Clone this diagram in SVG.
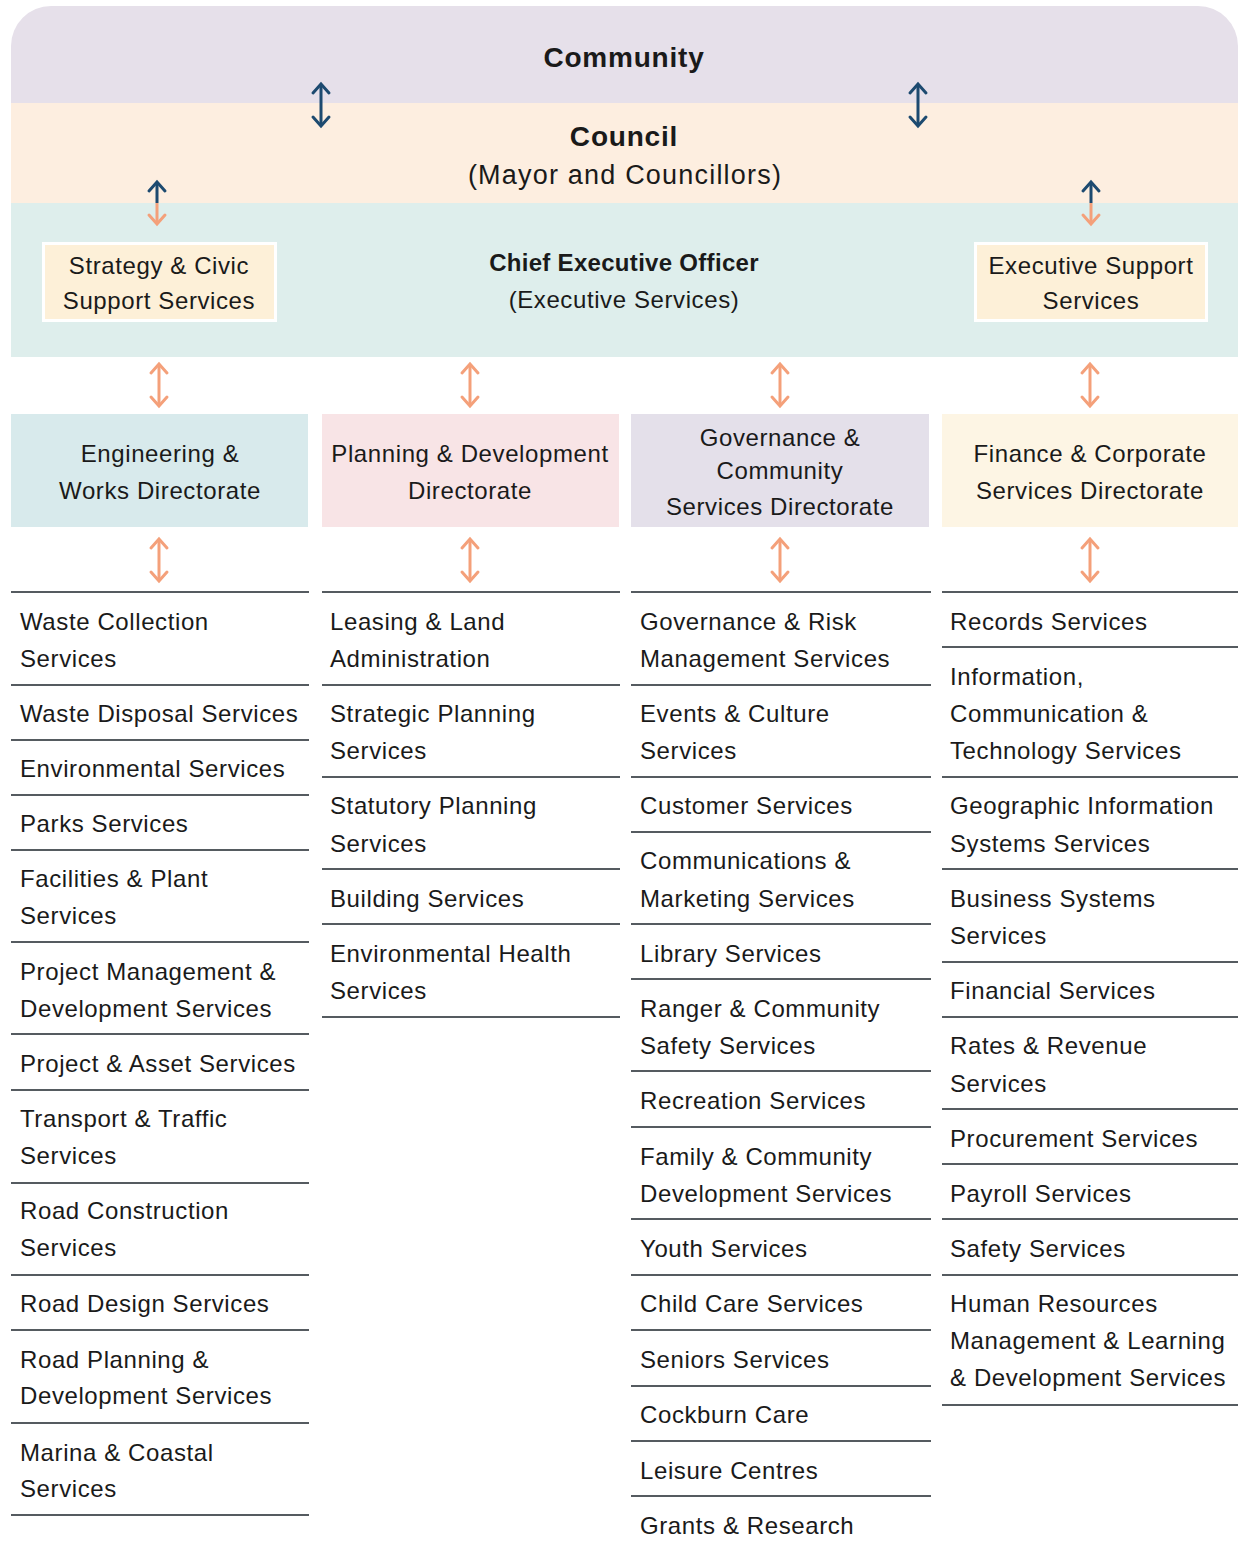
<svg xmlns="http://www.w3.org/2000/svg" width="1238" height="1547" viewBox="0 0 1238 1547">
<style>
text{font-family:"Liberation Sans",Arial,sans-serif;font-size:24px;fill:#1a1a1a;letter-spacing:0.6px}
.c{text-anchor:middle}
.b{font-weight:bold;letter-spacing:0.3px}
.sep{stroke:#555b60;stroke-width:2}
.ao{stroke:#f4a07a;stroke-width:3;fill:none}
.ab{stroke:#1d4a70;stroke-width:3;fill:none}
</style>
<defs>
<marker id="mo" markerUnits="userSpaceOnUse" markerWidth="24" markerHeight="24" viewBox="-12 -12 24 24" refX="0" refY="0" orient="auto-start-reverse"><path d="M-9,-8 L0,0 L-9,8" stroke="#f4a07a" stroke-width="3" fill="none" stroke-linecap="round"/></marker>
<marker id="mb" markerUnits="userSpaceOnUse" markerWidth="24" markerHeight="24" viewBox="-12 -12 24 24" refX="0" refY="0" orient="auto-start-reverse"><path d="M-9,-8 L0,0 L-9,8" stroke="#1d4a70" stroke-width="3" fill="none" stroke-linecap="round"/></marker>
</defs>
<rect width="1238" height="1547" fill="#ffffff"/>
<g id="community"><path d="M11,103 V46 A40,40 0 0 1 51,6 H1198 A40,40 0 0 1 1238,46 V103 Z" fill="#e6e0ea"/><text class="c b" x="624" y="67" style="font-size:28px;letter-spacing:0.8px">Community</text></g>
<g id="council"><rect x="11" y="103" width="1227" height="100" fill="#fdeee0"/><text class="c b" x="624" y="146" style="font-size:28px;letter-spacing:0.8px">Council</text><text class="c" x="625" y="184" style="font-size:27px;letter-spacing:1.2px">(Mayor and Councillors)</text></g>
<g id="ceo"><rect x="11" y="203" width="1227" height="154" fill="#deeeec"/><text class="c b" x="624" y="271">Chief Executive Officer</text><text class="c" x="624" y="308">(Executive Services)</text></g>
<g id="strategy"><rect x="43.5" y="243.5" width="232" height="77" fill="#fdf0d8" stroke="#ffffff" stroke-width="3"/><text class="c" x="159" y="274">Strategy &amp; Civic</text><text class="c" x="159" y="309">Support Services</text></g>
<g id="execsupport"><rect x="975.5" y="243.5" width="231" height="77" fill="#fdf0d8" stroke="#ffffff" stroke-width="3"/><text class="c" x="1091" y="274">Executive Support</text><text class="c" x="1091" y="309">Services</text></g>
<g id="dir-eng"><rect x="11" y="414" width="297" height="113" fill="#d8eaec"/><text class="c" x="160" y="462">Engineering &amp;</text><text class="c" x="160" y="499">Works Directorate</text></g>
<g id="dir-plan"><rect x="322" y="414" width="297" height="113" fill="#f8e4e6"/><text class="c" x="470" y="462">Planning &amp; Development</text><text class="c" x="470" y="499">Directorate</text></g>
<g id="dir-gov"><rect x="631" y="414" width="298" height="113" fill="#e4e0ea"/><text class="c" x="780" y="446">Governance &amp;</text><text class="c" x="780" y="479">Community</text><text class="c" x="780" y="515">Services Directorate</text></g>
<g id="dir-fin"><rect x="942" y="414" width="296" height="113" fill="#fdf5e4"/><text class="c" x="1090" y="462">Finance &amp; Corporate</text><text class="c" x="1090" y="499">Services Directorate</text></g>
<g id="connectors">
<line class="ab" x1="321" y1="84" x2="321" y2="126" marker-start="url(#mb)" marker-end="url(#mb)"/>
<line class="ab" x1="918" y1="84" x2="918" y2="126" marker-start="url(#mb)" marker-end="url(#mb)"/>
<line class="ab" x1="157" y1="203" x2="157" y2="182" marker-end="url(#mb)"/>
<line class="ao" x1="157" y1="203" x2="157" y2="224" marker-end="url(#mo)"/>
<line class="ab" x1="1091" y1="203" x2="1091" y2="182" marker-end="url(#mb)"/>
<line class="ao" x1="1091" y1="203" x2="1091" y2="224" marker-end="url(#mo)"/>
<line class="ao" x1="159" y1="364" x2="159" y2="406" marker-start="url(#mo)" marker-end="url(#mo)"/>
<line class="ao" x1="470" y1="364" x2="470" y2="406" marker-start="url(#mo)" marker-end="url(#mo)"/>
<line class="ao" x1="780" y1="364" x2="780" y2="406" marker-start="url(#mo)" marker-end="url(#mo)"/>
<line class="ao" x1="1090" y1="364" x2="1090" y2="406" marker-start="url(#mo)" marker-end="url(#mo)"/>
<line class="ao" x1="159" y1="539" x2="159" y2="581" marker-start="url(#mo)" marker-end="url(#mo)"/>
<line class="ao" x1="470" y1="539" x2="470" y2="581" marker-start="url(#mo)" marker-end="url(#mo)"/>
<line class="ao" x1="780" y1="539" x2="780" y2="581" marker-start="url(#mo)" marker-end="url(#mo)"/>
<line class="ao" x1="1090" y1="539" x2="1090" y2="581" marker-start="url(#mo)" marker-end="url(#mo)"/>
</g>
<g id="col-eng">
<g class="sep"><line x1="11" y1="592" x2="309" y2="592"/><line x1="11" y1="685" x2="309" y2="685"/><line x1="11" y1="740" x2="309" y2="740"/><line x1="11" y1="795" x2="309" y2="795"/><line x1="11" y1="850" x2="309" y2="850"/><line x1="11" y1="942" x2="309" y2="942"/><line x1="11" y1="1034" x2="309" y2="1034"/><line x1="11" y1="1090" x2="309" y2="1090"/><line x1="11" y1="1183" x2="309" y2="1183"/><line x1="11" y1="1275" x2="309" y2="1275"/><line x1="11" y1="1330" x2="309" y2="1330"/><line x1="11" y1="1423" x2="309" y2="1423"/><line x1="11" y1="1515" x2="309" y2="1515"/></g>
<text x="20" y="630">Waste Collection</text><text x="20" y="667">Services</text>
<text x="20" y="722">Waste Disposal Services</text>
<text x="20" y="777">Environmental Services</text>
<text x="20" y="832">Parks Services</text>
<text x="20" y="887">Facilities &amp; Plant</text><text x="20" y="924">Services</text>
<text x="20" y="980">Project Management &amp;</text><text x="20" y="1017">Development Services</text>
<text x="20" y="1072">Project &amp; Asset Services</text>
<text x="20" y="1127">Transport &amp; Traffic</text><text x="20" y="1164">Services</text>
<text x="20" y="1219">Road Construction</text><text x="20" y="1256">Services</text>
<text x="20" y="1312">Road Design Services</text>
<text x="20" y="1368">Road Planning &amp;</text><text x="20" y="1404">Development Services</text>
<text x="20" y="1461">Marina &amp; Coastal</text><text x="20" y="1497">Services</text>
</g>
<g id="col-plan">
<g class="sep"><line x1="322" y1="592" x2="620" y2="592"/><line x1="322" y1="685" x2="620" y2="685"/><line x1="322" y1="777" x2="620" y2="777"/><line x1="322" y1="869" x2="620" y2="869"/><line x1="322" y1="924" x2="620" y2="924"/><line x1="322" y1="1017" x2="620" y2="1017"/></g>
<text x="330" y="630">Leasing &amp; Land</text><text x="330" y="667">Administration</text>
<text x="330" y="722">Strategic Planning</text><text x="330" y="759">Services</text>
<text x="330" y="814">Statutory Planning</text><text x="330" y="852">Services</text>
<text x="330" y="907">Building Services</text>
<text x="330" y="962">Environmental Health</text><text x="330" y="999">Services</text>
</g>
<g id="col-gov">
<g class="sep"><line x1="631" y1="592" x2="931" y2="592"/><line x1="631" y1="685" x2="931" y2="685"/><line x1="631" y1="777" x2="931" y2="777"/><line x1="631" y1="832" x2="931" y2="832"/><line x1="631" y1="924" x2="931" y2="924"/><line x1="631" y1="979" x2="931" y2="979"/><line x1="631" y1="1071" x2="931" y2="1071"/><line x1="631" y1="1127" x2="931" y2="1127"/><line x1="631" y1="1219" x2="931" y2="1219"/><line x1="631" y1="1275" x2="931" y2="1275"/><line x1="631" y1="1330" x2="931" y2="1330"/><line x1="631" y1="1386" x2="931" y2="1386"/><line x1="631" y1="1441" x2="931" y2="1441"/><line x1="631" y1="1496" x2="931" y2="1496"/></g>
<text x="640" y="630">Governance &amp; Risk</text><text x="640" y="667">Management Services</text>
<text x="640" y="722">Events &amp; Culture</text><text x="640" y="759">Services</text>
<text x="640" y="814">Customer Services</text>
<text x="640" y="869">Communications &amp;</text><text x="640" y="907">Marketing Services</text>
<text x="640" y="962">Library Services</text>
<text x="640" y="1017">Ranger &amp; Community</text><text x="640" y="1054">Safety Services</text>
<text x="640" y="1109">Recreation Services</text>
<text x="640" y="1165">Family &amp; Community</text><text x="640" y="1202">Development Services</text>
<text x="640" y="1257">Youth Services</text>
<text x="640" y="1312">Child Care Services</text>
<text x="640" y="1368">Seniors Services</text>
<text x="640" y="1423">Cockburn Care</text>
<text x="640" y="1479">Leisure Centres</text>
<text x="640" y="1534">Grants &amp; Research</text>
</g>
<g id="col-fin">
<g class="sep"><line x1="942" y1="592" x2="1238" y2="592"/><line x1="942" y1="647" x2="1238" y2="647"/><line x1="942" y1="777" x2="1238" y2="777"/><line x1="942" y1="869" x2="1238" y2="869"/><line x1="942" y1="962" x2="1238" y2="962"/><line x1="942" y1="1017" x2="1238" y2="1017"/><line x1="942" y1="1109" x2="1238" y2="1109"/><line x1="942" y1="1164" x2="1238" y2="1164"/><line x1="942" y1="1219" x2="1238" y2="1219"/><line x1="942" y1="1275" x2="1238" y2="1275"/><line x1="942" y1="1405" x2="1238" y2="1405"/></g>
<text x="950" y="630">Records Services</text>
<text x="950" y="685">Information,</text><text x="950" y="722">Communication &amp;</text><text x="950" y="759">Technology Services</text>
<text x="950" y="814">Geographic Information</text><text x="950" y="852">Systems Services</text>
<text x="950" y="907">Business Systems</text><text x="950" y="944">Services</text>
<text x="950" y="999">Financial Services</text>
<text x="950" y="1054">Rates &amp; Revenue</text><text x="950" y="1092">Services</text>
<text x="950" y="1147">Procurement Services</text>
<text x="950" y="1202">Payroll Services</text>
<text x="950" y="1257">Safety Services</text>
<text x="950" y="1312">Human Resources</text><text x="950" y="1349">Management &amp; Learning</text><text x="950" y="1386">&amp; Development Services</text>
</g>
</svg>
